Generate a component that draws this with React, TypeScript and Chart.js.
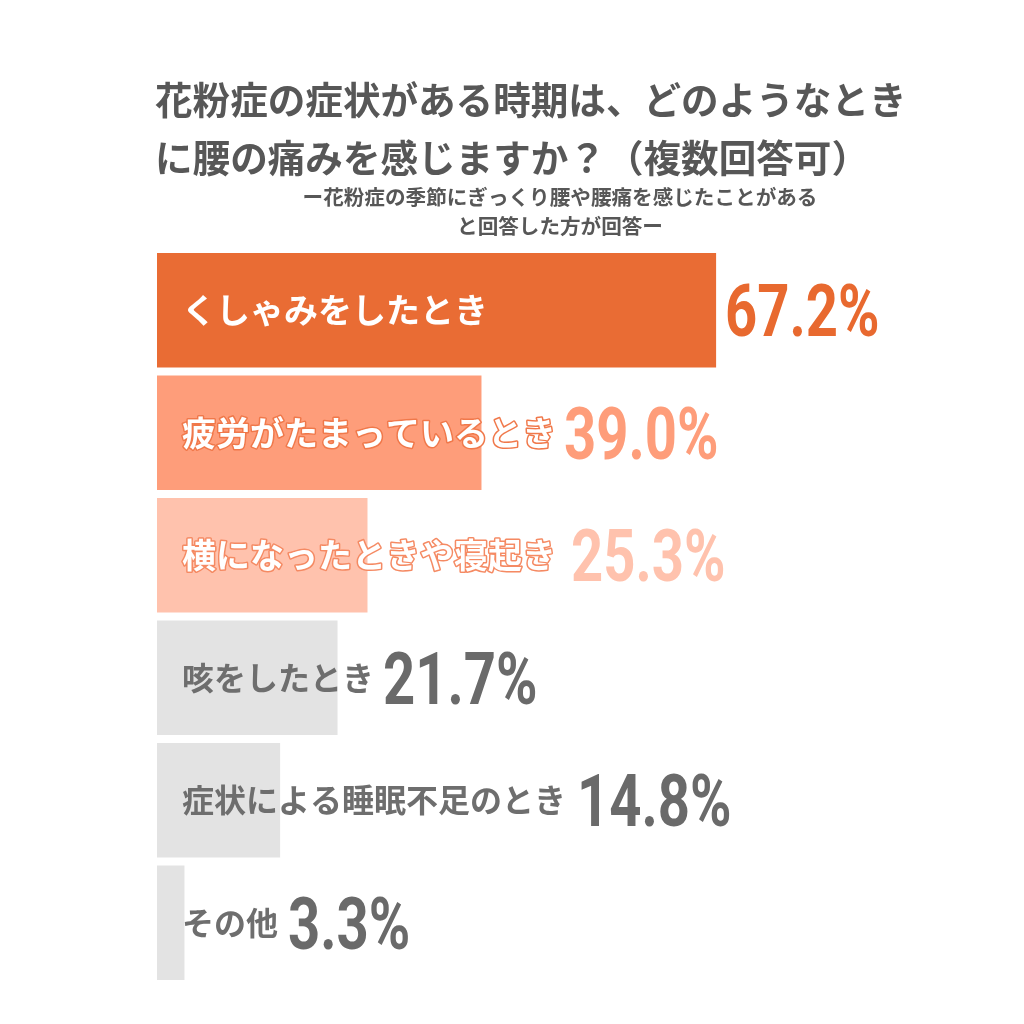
import React, { useRef, useEffect } from "react";
import { Chart, registerables } from "chart.js";

Chart.register(...registerables);

const titleLines = [
  "花粉症の症状がある時期は、どのようなとき",
  "に腰の痛みを感じますか？（複数回答可）",
];
const subtitleLines = [
  "ー花粉症の季節にぎっくり腰や腰痛を感じたことがある",
  "と回答した方が回答ー",
];
const categories = [
  "くしゃみをしたとき",
  "疲労がたまっているとき",
  "横になったときや寝起き",
  "咳をしたとき",
  "症状による睡眠不足のとき",
  "その他",
];
const values = [67.2, 39.0, 25.3, 21.7, 14.8, 3.3];
const barColors = ["#E96C34", "#FE9D7A", "#FFC2AD", "#E3E3E3", "#E3E3E3", "#E3E3E3"];
const valueColors = ["#E8692F", "#FE9D7A", "#FFC2AD", "#6A6A6A", "#6A6A6A", "#6A6A6A"];
const labelColors = ["#FFFFFF", "#FFFFFF", "#FFFFFF", "#6E6E6E", "#6E6E6E", "#6E6E6E"];
const labelStrokes = [null, "#F0784A", "#F58A63", null, null, null];
const labelSizes = [34, 34, 34, 32, 32, 32];
const valueGaps = [9, 8, 15, 9, 11, 10];

const JP = '"Noto Sans CJK JP", "Noto Sans", sans-serif';

const textPlugin = {
  id: "textPlugin",
  afterDraw(chart: any) {
    const ctx = chart.ctx as CanvasRenderingContext2D;
    ctx.save();
    // title
    ctx.fillStyle = "#575757";
    ctx.textBaseline = "middle";
    ctx.textAlign = "left";
    ctx.font = `bold 37.6px ${JP}`;
    ctx.fillText(titleLines[0], 155, 100);
    ctx.fillText(titleLines[1], 155, 158);
    ctx.font = `bold 20.6px ${JP}`;
    ctx.textAlign = "center";
    ctx.fillText(subtitleLines[0], 560, 197);
    ctx.fillText(subtitleLines[1], 560, 226);

    // bar labels + values
    const meta = chart.getDatasetMeta(0);
    meta.data.forEach((bar: any, i: number) => {
      const lx = bar.base + 25;
      const y = bar.y;
      ctx.textAlign = "left";
      ctx.textBaseline = "middle";
      ctx.font = `bold ${labelSizes[i]}px ${JP}`;
      const stroke = labelStrokes[i];
      if (stroke) {
        ctx.strokeStyle = stroke;
        ctx.lineWidth = 3;
        ctx.lineJoin = "round";
        ctx.strokeText(categories[i], lx, y);
      }
      ctx.fillStyle = labelColors[i];
      ctx.fillText(categories[i], lx, y);
      const labelEnd = lx + ctx.measureText(categories[i]).width;
      const vx = Math.max(bar.x, labelEnd) + valueGaps[i];

      ctx.save();
      ctx.font = `bold 72px Roboto, sans-serif`;
      ctx.textBaseline = "alphabetic";
      ctx.fillStyle = valueColors[i];
      ctx.translate(vx, y + 26);
      ctx.scale(0.78, 1);
      ctx.fillText(values[i].toFixed(1) + "%", 0, 0);
      ctx.restore();
    });
    ctx.restore();
  },
};

const App: React.FC = () => {
  const canvasRef = useRef<HTMLCanvasElement | null>(null);

  useEffect(() => {
    if (!canvasRef.current) return;
    const chart = new Chart(canvasRef.current, {
      type: "bar",
      data: {
        labels: categories,
        datasets: [
          {
            data: values,
            backgroundColor: barColors,
            borderWidth: 0,
            barPercentage: 0.935,
            categoryPercentage: 1,
          },
        ],
      },
      options: {
        indexAxis: "y",
        responsive: false,
        animation: false,
        devicePixelRatio: 1,
        layout: { padding: { top: 249, bottom: 40, left: 157, right: 35 } },
        scales: {
          x: { display: false, min: 0, max: 100 },
          y: { display: false },
        },
        plugins: {
          legend: { display: false },
          tooltip: { enabled: false },
          title: { display: false },
        },
      },
      plugins: [textPlugin],
    });
    return () => chart.destroy();
  }, []);

  return (
    <div style={{ position: "absolute", left: 0, top: 0, width: 1024, height: 1024, background: "#fff" }}>
      <canvas ref={canvasRef} width={1024} height={1024} />
    </div>
  );
};

export default App;
